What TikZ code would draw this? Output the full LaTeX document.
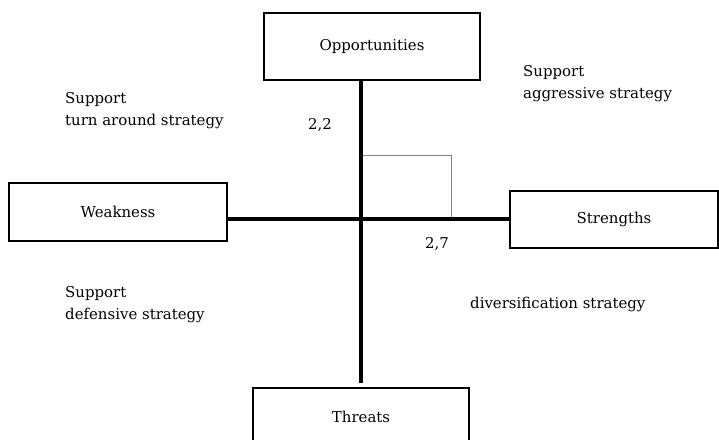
\documentclass[tikz,border=0pt]{standalone}
\usepackage{fontspec}
\setmainfont{DejaVu Serif}
\begin{document}
\begin{tikzpicture}[x=1bp,y=-1bp,
	box/.style = {draw,line width = 2pt,inner sep = 0pt,font=\fontsize{15}{20}\selectfont},
	note/.style = {inner sep = 0pt,align = left,font=\fontsize{15}{22}\selectfont},
	axis/.style = {line width = 3.2pt}]
		\clip (0,0) rectangle (719,440);
		% \draw[step=50,gray!30] (0,0) grid (719,440);
		\coordinate (o) at (361,219);
		\draw[gray,line width = 0.8pt] (o) rectangle (451,155);
		\node[box,minimum width = 216,minimum height = 67] (opp) at (372,46.5){Opportunities};
		\node[box,minimum width = 218,minimum height = 58] (weak) at (118,212){Weakness};
		\node[box,minimum width = 208,minimum height = 57] (str) at (614,219.5){Strengths};
		\node[box,minimum width = 216,minimum height = 58] (thr) at (361,417){Threats};
		\coordinate (bot) at (361,383);
		\draw[axis] (opp.south -| o) -- (bot);
		\draw[axis] (weak.east |- o) -- (str.west |- o);
		\node[note] (v22) at (320,125){2,2};
		\node[note] (v27) at (437,244){2,7};
		\node[note,anchor = west] (turn) at (65,111){Support\\turn around strategy};
		\node[note,anchor = west] (aggr) at (523,84){Support\\aggressive strategy};
		\node[note,anchor = west] (def) at (65,305){Support\\defensive strategy};
		\node[note,anchor = west] (div) at (470,304){diversification strategy};
\end{tikzpicture}
\end{document}
